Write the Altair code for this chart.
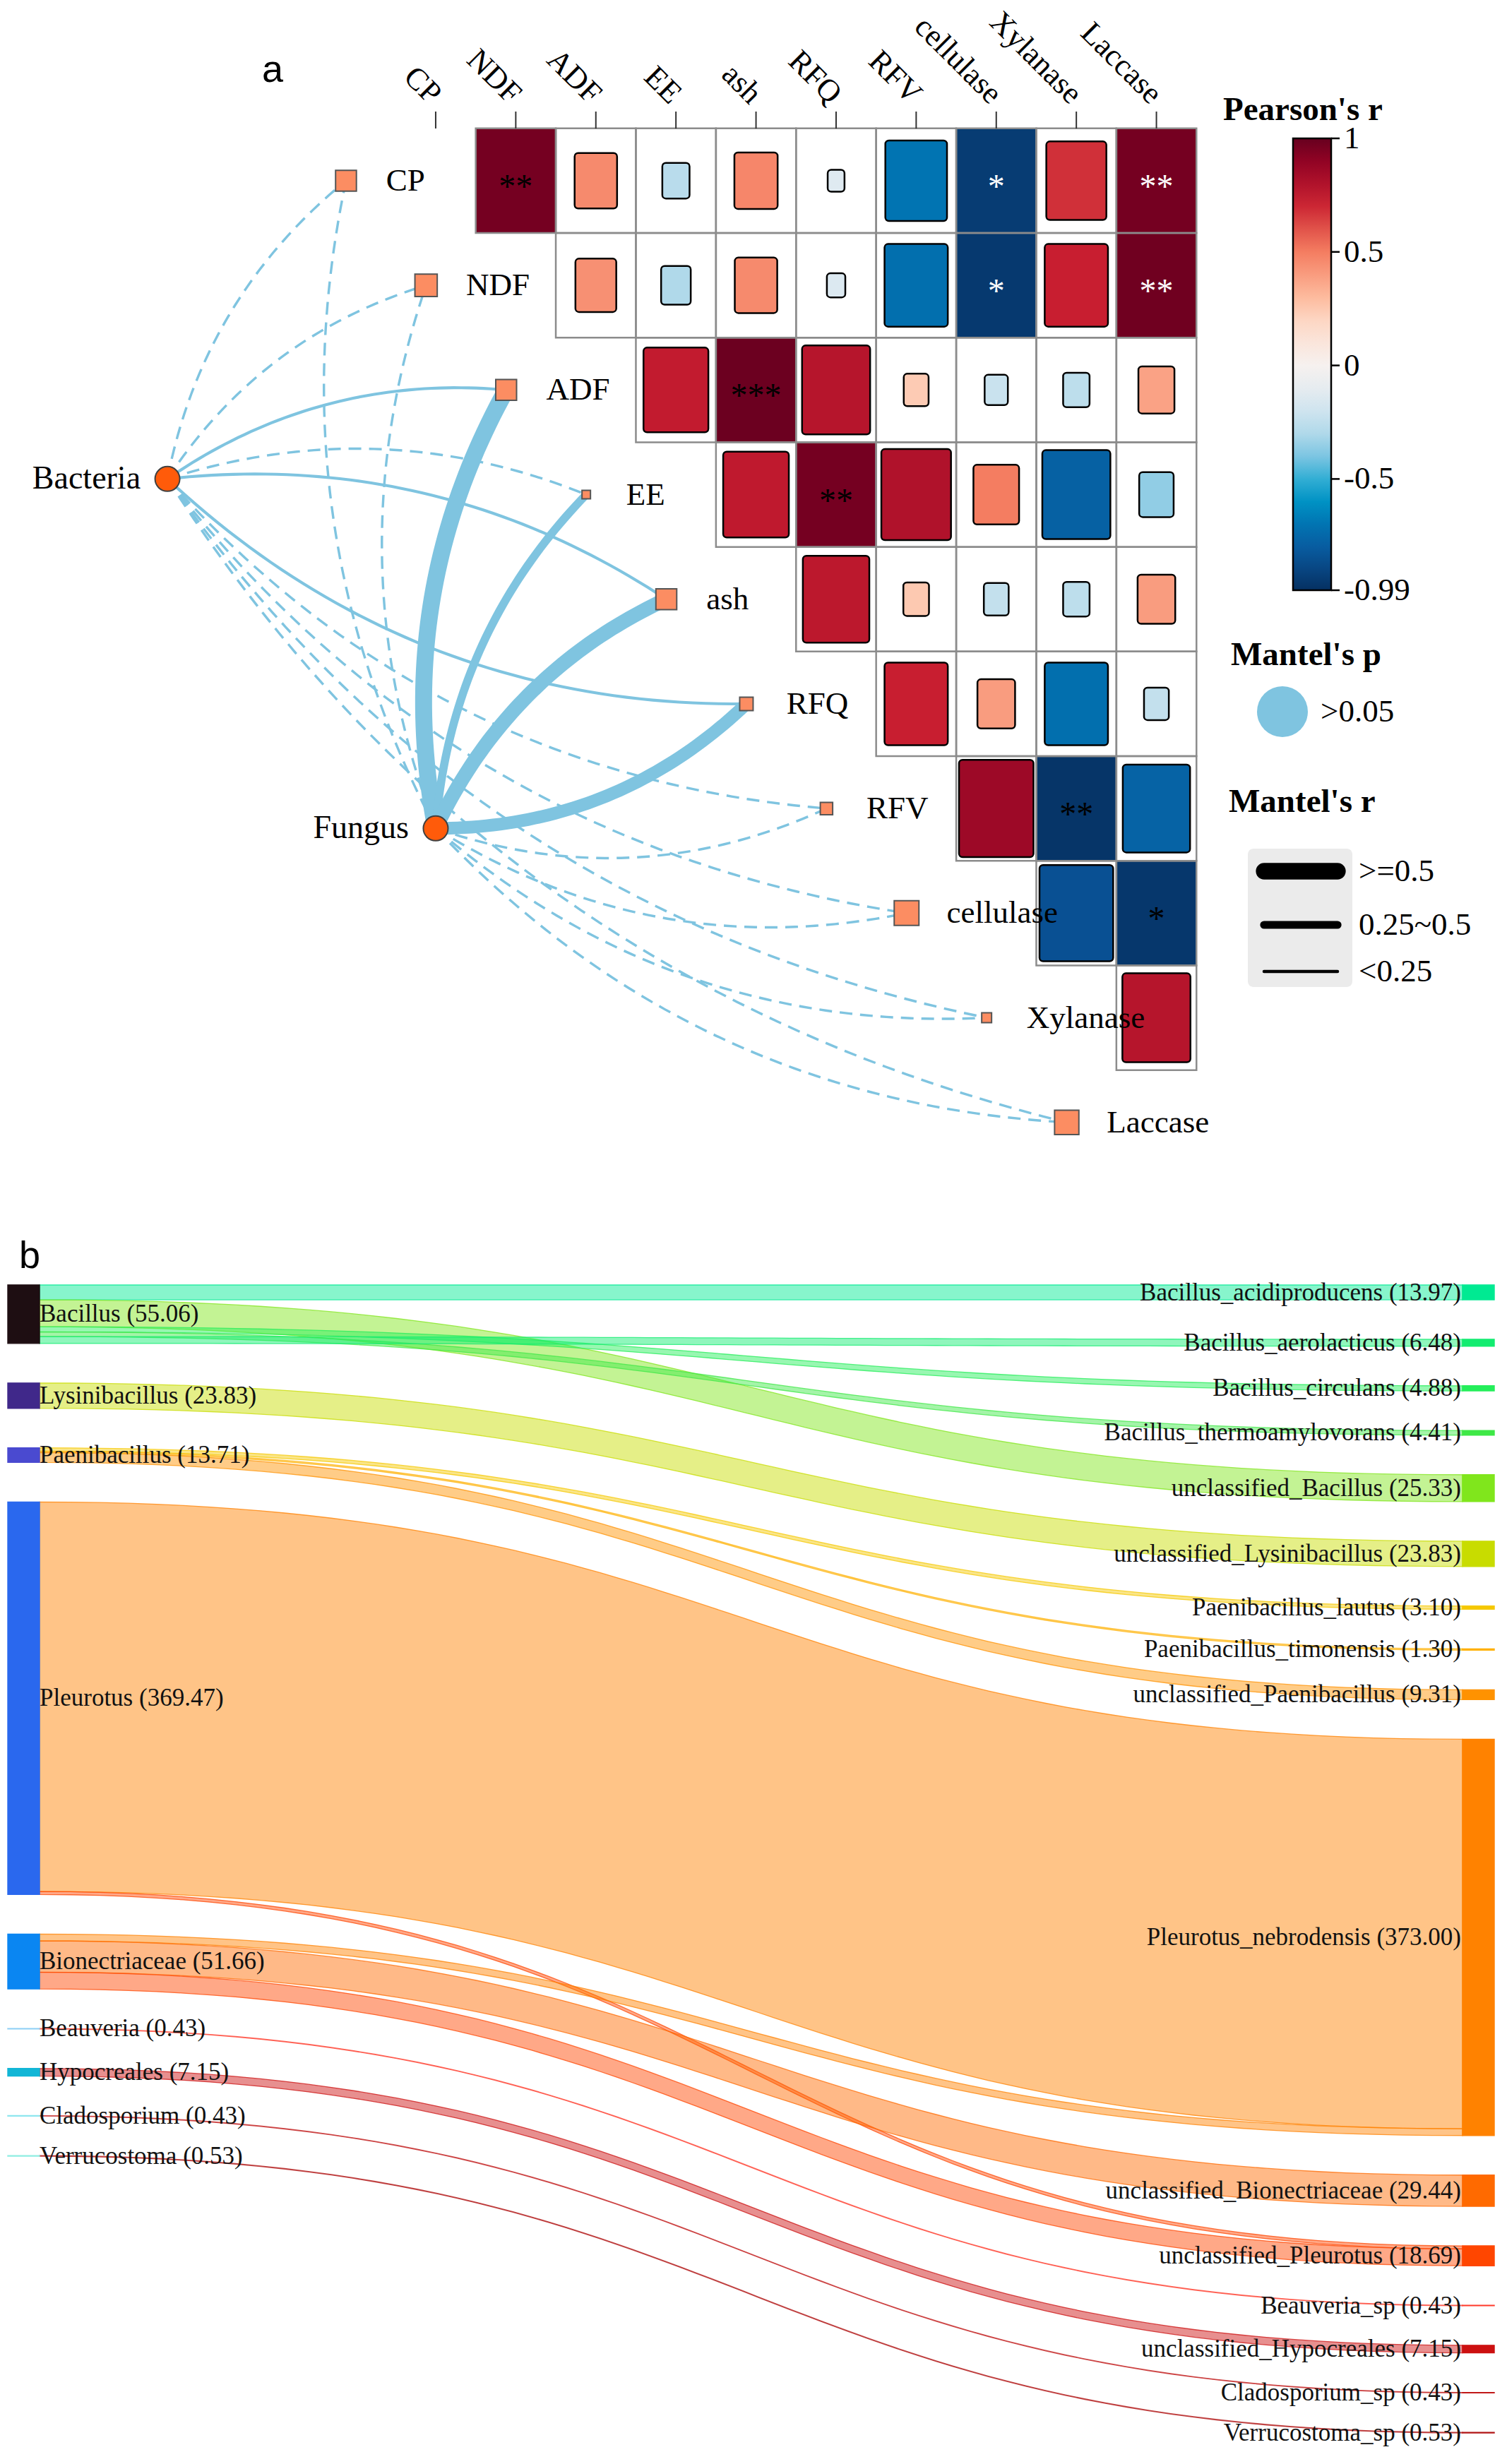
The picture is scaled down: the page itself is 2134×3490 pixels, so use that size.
import altair as alt
import numpy as np
import pandas as pd

SERIF = "Liberation Serif"
SANS = "Liberation Sans"

# ======================= panel a : data =======================
VARS = ["CP", "NDF", "ADF", "EE", "ash", "RFQ", "RFV", "cellulase", "Xylanase", "Laccase"]

# upper-triangle Pearson's r, row by row (row i holds columns i+1 .. 9)
R_CP = [0.97, 0.46, -0.27, 0.47, -0.14, -0.70, -0.94, 0.68, 0.97]
R_NDF = [0.44, -0.30, 0.46, -0.16, -0.72, -0.95, 0.72, 0.98]
R_ADF = [0.74, 0.99, 0.78, 0.24, -0.22, -0.26, 0.38]
R_EE = [0.75, 0.97, 0.80, 0.50, -0.78, -0.36]
R_ASH = [0.76, 0.25, -0.24, -0.26, 0.40]
R_RFQ = [0.72, 0.40, -0.72, -0.24]
R_RFV = [0.86, -0.97, -0.77]
R_CELL = [-0.85, -0.96]
R_XYL = [0.78]

SIG_CP = ["**", "", "", "", "", "", "*", "", "**"]
SIG_NDF = ["", "", "", "", "", "*", "", "**"]
SIG_ADF = ["", "***", "", "", "", "", ""]
SIG_EE = ["", "**", "", "", "", ""]
SIG_ASH = ["", "", "", "", ""]
SIG_RFQ = ["", "", "", ""]
SIG_RFV = ["", "**", ""]
SIG_CELL = ["", "*"]
SIG_XYL = [""]

ENVS = ["Bacteria", "Fungus"]
MANTEL_R_BACTERIA = [0.04, 0.04, 0.06, 0.04, 0.06, 0.06, 0.04, 0.04, 0.04, 0.04]
MANTEL_R_FUNGUS = [0.04, 0.04, 0.62, 0.27, 0.52, 0.45, 0.04, 0.04, 0.04, 0.04]
LINE_BACTERIA = ["dashed", "dashed", "solid", "dashed", "solid", "solid", "dashed", "dashed", "dashed", "dashed"]
LINE_FUNGUS = ["dashed", "dashed", "solid", "solid", "solid", "solid", "dashed", "dashed", "dashed", "dashed"]

# colour bar of Pearson's r (value stops and colours)
CB_STOPS = [-0.99, -0.83, -0.69, -0.56, -0.43, -0.30, -0.16, 0.0, 0.18, 0.31, 0.51, 0.72, 0.92, 1.0]
CB_COLORS = ["#053061", "#0A559A", "#0076B4", "#009FCB", "#6DBFDF", "#B0D9EA", "#DCE9F1",
             "#F6F1EF", "#FDDCCB", "#FDB89A", "#F47A5E", "#C81E30", "#8B0023", "#67001F"]
CB_LABELS = [1, 0.5, 0, -0.5, -0.99]

# ======================= panel b : data =======================
LEFT_NAMES = ["Bacillus", "Lysinibacillus", "Paenibacillus", "Pleurotus", "Bionectriaceae",
              "Beauveria", "Hypocreales", "Cladosporium", "Verrucostoma"]
LEFT_VALUES = [55.06, 23.83, 13.71, 369.47, 51.66, 0.43, 7.15, 0.43, 0.53]

RIGHT_NAMES = ["Bacillus_acidiproducens", "Bacillus_aerolacticus", "Bacillus_circulans",
               "Bacillus_thermoamylovorans", "unclassified_Bacillus", "unclassified_Lysinibacillus",
               "Paenibacillus_lautus", "Paenibacillus_timonensis", "unclassified_Paenibacillus",
               "Pleurotus_nebrodensis", "unclassified_Bionectriaceae", "unclassified_Pleurotus",
               "Beauveria_sp", "unclassified_Hypocreales", "Cladosporium_sp", "Verrucostoma_sp"]
RIGHT_VALUES = [13.97, 6.48, 4.88, 4.41, 25.33, 23.83, 3.10, 1.30, 9.31, 373.00, 29.44, 18.69,
                0.43, 7.15, 0.43, 0.53]

LINK_SRC = ["Bacillus", "Bacillus", "Bacillus", "Bacillus", "Bacillus", "Lysinibacillus",
            "Paenibacillus", "Paenibacillus", "Paenibacillus", "Pleurotus", "Pleurotus",
            "Bionectriaceae", "Bionectriaceae", "Bionectriaceae", "Beauveria", "Hypocreales",
            "Cladosporium", "Verrucostoma"]
LINK_TGT = ["Bacillus_acidiproducens", "unclassified_Bacillus", "Bacillus_circulans",
            "Bacillus_thermoamylovorans", "Bacillus_aerolacticus", "unclassified_Lysinibacillus",
            "Paenibacillus_lautus", "Paenibacillus_timonensis", "unclassified_Paenibacillus",
            "Pleurotus_nebrodensis", "unclassified_Pleurotus", "Pleurotus_nebrodensis",
            "unclassified_Bionectriaceae", "unclassified_Pleurotus", "Beauveria_sp",
            "unclassified_Hypocreales", "Cladosporium_sp", "Verrucostoma_sp"]
LINK_VAL = [13.97, 25.33, 4.88, 4.41, 6.48, 23.83, 3.10, 1.30, 9.31, 366.60, 2.87, 6.40, 29.44,
            15.82, 0.43, 7.15, 0.43, 0.53]

# ======================= styles / layout =======================
LEFT_COLORS = ["#1E0E12", "#40288A", "#4A4AD0", "#2A68EE", "#0A86F2", "#8CCFF5", "#12B6D6",
               "#8EE6EE", "#8EEDE2"]
RIGHT_COLORS = ["#00EA92", "#12EC70", "#24EE5A", "#3EE846", "#80E61C", "#C8DC00", "#F5C800",
                "#FFB000", "#FF9200", "#FF8200", "#FF6A00", "#FF4600", "#FF3A2A", "#CC1010",
                "#C01818", "#B01414"]
EDGE_COLOR = "#7FC4E0"
NODE_FILL = "#FC8D62"
ENV_FILL = "#FF5B0A"
WHITE_SIG = {(0, 7), (0, 9), (1, 7), (1, 9)}
NODE_SIDE = [29.5, 31.6, 29.5, 12, 29.5, 19, 17.5, 35, 14, 34.4]
ENV_POS = {"Bacteria": (-3.35, 2.85), "Fungus": (0.0, 6.19)}
NODE_DX = -1.12
CURV_UP = 0.09
CURV_DOWN = 0.10

# panel a geometry (pixels per unit)
PXX, PXY = 113.4, 148.2
A_W, A_H = 2118, 1652
XA0 = -5.37
XA1 = XA0 + A_W / PXX
YA0 = -1.673
YA1 = YA0 + A_H / PXY

# colour-bar layout (pixels)
CB_LEFT, CB_TOP, CB_LEN, CB_THICK = 1831, 196, 640, 54


def ax(px):
    return XA0 + (px - 8) / PXX


def ay(py):
    return YA0 + (py - 8) / PXY


def cb_y(v):
    return CB_TOP + (1 - v) / 1.99 * CB_LEN


XS = alt.Scale(domain=[XA0, XA1], nice=False, zero=False)
YS = alt.Scale(domain=[YA0, YA1], nice=False, zero=False, reverse=True)
SW_SCALE = alt.Scale(domain=[0, 0.62], range=[2, 24])
COLOR_SCALE = alt.Scale(domain=CB_STOPS, range=CB_COLORS, interpolate="rgb")

# ---------------- heatmap cells ----------------
rows_r = [R_CP, R_NDF, R_ADF, R_EE, R_ASH, R_RFQ, R_RFV, R_CELL, R_XYL]
rows_s = [SIG_CP, SIG_NDF, SIG_ADF, SIG_EE, SIG_ASH, SIG_RFQ, SIG_RFV, SIG_CELL, SIG_XYL]
recs = []
for i, (rr, ss) in enumerate(zip(rows_r, rows_s)):
    for k, (r, s) in enumerate(zip(rr, ss)):
        j = i + 1 + k
        recs.append(dict(i=i, j=j, r=r, sig=s, sigcol="white" if (i, j) in WHITE_SIG else "black"))
cells = pd.DataFrame(recs)

color_enc = alt.Color("r:Q", scale=COLOR_SCALE, legend=alt.Legend(
    orient="none", legendX=CB_LEFT - 8, legendY=CB_TOP - 8, direction="vertical",
    gradientLength=CB_LEN, gradientThickness=CB_THICK, title=None,
    values=CB_LABELS, labelExpr="''", labelOpacity=0, labelFontSize=1,
    gradientStrokeColor="black", gradientStrokeWidth=2.5, padding=0))

base_cells = alt.Chart(cells).transform_calculate(
    bx1="datum.j - 0.5", bx2="datum.j + 0.5", by1="datum.i - 0.5", by2="datum.i + 0.5",
    f="datum.sig != '' ? 1.0 : min(0.95, 0.07 + abs(datum.r))",
).transform_calculate(
    ix1="datum.j - datum.f / 2", ix2="datum.j + datum.f / 2",
    iy1="datum.i - datum.f / 2", iy2="datum.i + datum.f / 2",
)

cell_bg = base_cells.mark_rect(fill="white").encode(
    x=alt.X("bx1:Q", scale=XS, axis=None), x2="bx2:Q",
    y=alt.Y("by1:Q", scale=YS, axis=None), y2="by2:Q")

cell_full = base_cells.transform_filter("datum.sig != ''").mark_rect().encode(
    x=alt.X("ix1:Q", scale=XS, axis=None), x2="ix2:Q",
    y=alt.Y("iy1:Q", scale=YS, axis=None), y2="iy2:Q", color=color_enc)

cell_part = base_cells.transform_filter("datum.sig == ''").mark_rect(
    cornerRadius=5, stroke="black", strokeWidth=2.5).encode(
    x=alt.X("ix1:Q", scale=XS, axis=None), x2="ix2:Q",
    y=alt.Y("iy1:Q", scale=YS, axis=None), y2="iy2:Q", color=color_enc)

cell_grid = base_cells.mark_rect(fillOpacity=0, stroke="#8C8C8C", strokeWidth=2.5).encode(
    x=alt.X("bx1:Q", scale=XS, axis=None), x2="bx2:Q",
    y=alt.Y("by1:Q", scale=YS, axis=None), y2="by2:Q")

stars = alt.Chart(cells).transform_filter("datum.sig != ''").mark_text(
    font=SERIF, fontSize=48, baseline="middle", dy=10).encode(
    x=alt.X("j:Q", scale=XS, axis=None), y=alt.Y("i:Q", scale=YS, axis=None),
    text="sig:N", color=alt.Color("sigcol:N", scale=None))

# top labels and ticks
top = pd.DataFrame({"j": list(range(len(VARS))), "name": VARS})
top_labels = alt.Chart(top).transform_calculate(ly=str(ay(140))).mark_text(
    font=SERIF, fontSize=44, angle=45, align="right", baseline="middle", color="black").encode(
    x=alt.X("j:Q", scale=XS, axis=None), y=alt.Y("ly:Q", scale=YS, axis=None), text="name:N")
top_ticks = alt.Chart(top).transform_calculate(t1=str(ay(158)), t2=str(ay(182))).mark_rule(
    color="#333333", strokeWidth=2).encode(
    x=alt.X("j:Q", scale=XS, axis=None), y=alt.Y("t1:Q", scale=YS, axis=None), y2="t2:Q")

# ---------------- mantel edges ----------------


def curve(p0, p1, k, sgn, n=50):
    X0, Y0 = p0[0] * PXX, p0[1] * PXY
    X1, Y1 = p1[0] * PXX, p1[1] * PXY
    dx, dy = X1 - X0, Y1 - Y0
    L = np.hypot(dx, dy)
    nx, ny = dy / L, -dx / L
    cx = (X0 + X1) / 2 + sgn * 2 * k * L * nx
    cy = (Y0 + Y1) / 2 + sgn * 2 * k * L * ny
    t = np.linspace(0, 1, n)
    X = (1 - t) ** 2 * X0 + 2 * (1 - t) * t * cx + t ** 2 * X1
    Y = (1 - t) ** 2 * Y0 + 2 * (1 - t) * t * cy + t ** 2 * Y1
    return X / PXX, Y / PXY, t


erecs = []
for env, mrs, lts in [("Bacteria", MANTEL_R_BACTERIA, LINE_BACTERIA),
                      ("Fungus", MANTEL_R_FUNGUS, LINE_FUNGUS)]:
    for i, var in enumerate(VARS):
        p0 = ENV_POS[env]
        p1 = (i + NODE_DX, i)
        if i <= 4:
            sgn, k = 1, CURV_UP
        else:
            sgn, k = -1, CURV_DOWN
        X, Y, T = curve(p0, p1, k, sgn)
        for xx, yy, tt in zip(X, Y, T):
            erecs.append(dict(edge=f"{env}-{var}", t=tt, x=xx, y=yy, mr=mrs[i], lt=lts[i]))
edges = pd.DataFrame(erecs)

edge_enc = dict(
    x=alt.X("x:Q", scale=XS, axis=None), y=alt.Y("y:Q", scale=YS, axis=None),
    detail="edge:N", order="t:Q",
    strokeWidth=alt.StrokeWidth("mr:Q", scale=SW_SCALE, legend=None))
edges_dashed = alt.Chart(edges).transform_filter("datum.lt == 'dashed'").mark_line(
    color=EDGE_COLOR, strokeDash=[18, 11]).encode(**edge_enc)
edges_solid = alt.Chart(edges).transform_filter("datum.lt == 'solid'").mark_line(
    color=EDGE_COLOR).encode(**edge_enc)

# ---------------- nodes ----------------
vnodes = pd.DataFrame({"name": VARS, "x": [i + NODE_DX for i in range(len(VARS))],
                       "y": list(range(len(VARS))), "s2": [s * s for s in NODE_SIDE]})
var_nodes = alt.Chart(vnodes).mark_square(
    fill=NODE_FILL, stroke="#555555", strokeWidth=2, opacity=1).encode(
    x=alt.X("x:Q", scale=XS, axis=None), y=alt.Y("y:Q", scale=YS, axis=None),
    size=alt.Size("s2:Q", scale=None, legend=None))
var_labels = alt.Chart(vnodes).transform_calculate(lx="datum.x + 0.5").mark_text(
    font=SERIF, fontSize=45, align="left", baseline="middle", color="black").encode(
    x=alt.X("lx:Q", scale=XS, axis=None), y=alt.Y("y:Q", scale=YS, axis=None), text="name:N")

enodes = pd.DataFrame({"name": ENVS, "x": [ENV_POS[e][0] for e in ENVS],
                       "y": [ENV_POS[e][1] for e in ENVS]})
env_nodes = alt.Chart(enodes).mark_circle(
    size=1225, fill=ENV_FILL, stroke="#404040", strokeWidth=2, opacity=1).encode(
    x=alt.X("x:Q", scale=XS, axis=None), y=alt.Y("y:Q", scale=YS, axis=None))
env_labels = alt.Chart(enodes).transform_calculate(lx=f"datum.x - {38 / PXX}").mark_text(
    font=SERIF, fontSize=46, align="right", baseline="middle", color="black").encode(
    x=alt.X("lx:Q", scale=XS, axis=None), y=alt.Y("y:Q", scale=YS, axis=None), text="name:N")

# ---------------- manual legend pieces (layout in pixels) ----------------
leg_titles = pd.DataFrame({
    "text": ["Pearson's r", "Mantel's p", "Mantel's r"],
    "x": [ax(1732), ax(1743), ax(1740)], "y": [ay(156), ay(928), ay(1136)]})
leg_title_marks = alt.Chart(leg_titles).mark_text(
    font=SERIF, fontSize=47, fontWeight="bold", align="left", baseline="middle", color="black").encode(
    x=alt.X("x:Q", scale=XS, axis=None), y=alt.Y("y:Q", scale=YS, axis=None), text="text:N")

leg_labels = pd.DataFrame({
    "text": [">0.05", ">=0.5", "0.25~0.5", "<0.25"] + [str(v) for v in CB_LABELS],
    "x": [ax(1870), ax(1924), ax(1924), ax(1924)] + [ax(CB_LEFT + CB_THICK + 18)] * len(CB_LABELS),
    "y": [ay(1008), ay(1234), ay(1310), ay(1376)] + [ay(cb_y(v)) for v in CB_LABELS]})
leg_label_marks = alt.Chart(leg_labels).mark_text(
    font=SERIF, fontSize=45, align="left", baseline="middle", color="black").encode(
    x=alt.X("x:Q", scale=XS, axis=None), y=alt.Y("y:Q", scale=YS, axis=None), text="text:N")

leg_circle = alt.Chart(pd.DataFrame({"x": [ax(1816)], "y": [ay(1008)]})).mark_circle(
    size=5184, color=EDGE_COLOR, opacity=1).encode(
    x=alt.X("x:Q", scale=XS, axis=None), y=alt.Y("y:Q", scale=YS, axis=None))

leg_box = alt.Chart(pd.DataFrame({"x1": [ax(1767)], "x2": [ax(1915)], "y1": [ay(1202)],
                                  "y2": [ay(1398)]})).mark_rect(
    fill="#EBEBEB", cornerRadius=8).encode(
    x=alt.X("x1:Q", scale=XS, axis=None), x2="x2:Q",
    y=alt.Y("y1:Q", scale=YS, axis=None), y2="y2:Q")

leg_lines = alt.Chart(pd.DataFrame({
    "mr": [0.6, 0.26, 0.07], "x1": [ax(1790)] * 3, "x2": [ax(1894)] * 3,
    "y": [ay(1234), ay(1310), ay(1376)]})).mark_rule(color="black", strokeCap="round").encode(
    x=alt.X("x1:Q", scale=XS, axis=None), x2="x2:Q", y=alt.Y("y:Q", scale=YS, axis=None),
    strokeWidth=alt.StrokeWidth("mr:Q", scale=SW_SCALE, legend=None))

cb_ticks = alt.Chart(pd.DataFrame({
    "y": [ay(cb_y(v)) for v in CB_LABELS],
    "x1": [ax(CB_LEFT + CB_THICK)] * 5, "x2": [ax(CB_LEFT + CB_THICK + 12)] * 5})).mark_rule(
    color="black", strokeWidth=2.5).encode(
    x=alt.X("x1:Q", scale=XS, axis=None), x2="x2:Q", y=alt.Y("y:Q", scale=YS, axis=None))

label_a = alt.Chart(pd.DataFrame({"x": [ax(371)], "y": [ay(116)], "t": ["a"]})).mark_text(
    font=SANS, fontSize=54, align="left", baseline="alphabetic", color="black").encode(
    x=alt.X("x:Q", scale=XS, axis=None), y=alt.Y("y:Q", scale=YS, axis=None), text="t:N")

panel_a = alt.layer(
    cell_bg, cell_full, cell_part, cell_grid, stars, top_ticks, top_labels,
    edges_dashed, edges_solid, var_nodes, env_nodes, var_labels, env_labels,
    leg_title_marks, leg_label_marks, leg_circle, leg_box, leg_lines, cb_ticks, label_a,
).properties(width=A_W, height=A_H)

# ======================= panel b : sankey layout =======================
PXB = 2105.0          # pixels per x unit
PYB = 1.505           # pixels per value unit
B_W, B_H = 2118, 1735
XB0 = -3 / PXB
XB1 = XB0 + B_W / PXB
YB0 = -80 / PYB
YB1 = YB0 + B_H / PYB
NW = 45 / PXB
PAD_U = 56 / PYB

XSB = alt.Scale(domain=[XB0, XB1], nice=False, zero=False)
YSB = alt.Scale(domain=[YB0, YB1], nice=False, zero=False, reverse=True)


def stack(values):
    out, acc = [], 0.0
    for v in values:
        out.append(acc)
        acc += v + PAD_U
    return out


left_y0 = dict(zip(LEFT_NAMES, stack(LEFT_VALUES)))
right_y0 = dict(zip(RIGHT_NAMES, stack(RIGHT_VALUES)))
right_color = dict(zip(RIGHT_NAMES, RIGHT_COLORS))

nrecs = []
for n, v, c in zip(LEFT_NAMES, LEFT_VALUES, LEFT_COLORS):
    nrecs.append(dict(name=n, x1=0.0, x2=NW, y1=left_y0[n], y2=left_y0[n] + v, color=c,
                      label=f"{n} ({v:.2f})", side="L"))
for n, v, c in zip(RIGHT_NAMES, RIGHT_VALUES, RIGHT_COLORS):
    nrecs.append(dict(name=n, x1=1 - NW, x2=1.0, y1=right_y0[n], y2=right_y0[n] + v, color=c,
                      label=f"{n} ({v:.2f})", side="R"))
snodes = pd.DataFrame(nrecs)
snodes["yc"] = (snodes["y1"] + snodes["y2"]) / 2

# source offsets in list order, target offsets by source order
src_off = dict(left_y0)
tgt_off = dict(right_y0)
link_geo = [None] * len(LINK_VAL)
for idx in range(len(LINK_VAL)):
    s = LINK_SRC[idx]
    link_geo[idx] = [src_off[s]]
    src_off[s] += LINK_VAL[idx]
order_t = sorted(range(len(LINK_VAL)), key=lambda k: (LEFT_NAMES.index(LINK_SRC[k]), k))
for idx in order_t:
    t = LINK_TGT[idx]
    link_geo[idx].append(tgt_off[t])
    tgt_off[t] += LINK_VAL[idx]

lrecs = []
tt = np.linspace(0, 1, 70)
xf = 1.5 * tt * (1 - tt) + tt ** 3
sf = 3 * tt ** 2 - 2 * tt ** 3
for idx in range(len(LINK_VAL)):
    ys0, yt0 = link_geo[idx]
    v = LINK_VAL[idx]
    for a, b in zip(xf, sf):
        lrecs.append(dict(link=idx, x=NW + (1 - 2 * NW) * a,
                          ytop=ys0 + (yt0 - ys0) * b,
                          ybot=ys0 + v + (yt0 - ys0) * b,
                          color=right_color[LINK_TGT[idx]]))
slinks = pd.DataFrame(lrecs)

links_chart = alt.Chart(slinks).mark_area(
    fillOpacity=0.47, strokeWidth=1.3, strokeOpacity=0.75).encode(
    x=alt.X("x:Q", scale=XSB, axis=None),
    y=alt.Y("ytop:Q", scale=YSB, axis=None, stack=False), y2="ybot:Q",
    detail="link:N",
    fill=alt.Fill("color:N", scale=None), stroke=alt.Stroke("color:N", scale=None))

nodes_chart = alt.Chart(snodes).mark_rect(strokeWidth=1.4).encode(
    x=alt.X("x1:Q", scale=XSB, axis=None), x2="x2:Q",
    y=alt.Y("y1:Q", scale=YSB, axis=None), y2="y2:Q",
    fill=alt.Fill("color:N", scale=None), stroke=alt.Stroke("color:N", scale=None))

left_lab = alt.Chart(snodes).transform_filter("datum.side == 'L'").mark_text(
    font=SERIF, fontSize=35, align="left", baseline="middle", color="#111111").encode(
    x=alt.X("x2:Q", scale=XSB, axis=None), y=alt.Y("yc:Q", scale=YSB, axis=None), text="label:N")
right_lab = alt.Chart(snodes).transform_filter("datum.side == 'R'").mark_text(
    font=SERIF, fontSize=35, align="right", baseline="middle", color="#111111", dx=-2).encode(
    x=alt.X("x1:Q", scale=XSB, axis=None), y=alt.Y("yc:Q", scale=YSB, axis=None), text="label:N")

label_b = alt.Chart(pd.DataFrame({"x": [XB0 + (27 - 8) / PXB], "y": [YB0 + (1796 - 1740) / PYB],
                                  "t": ["b"]})).mark_text(
    font=SANS, fontSize=54, align="left", baseline="alphabetic", color="black").encode(
    x=alt.X("x:Q", scale=XSB, axis=None), y=alt.Y("y:Q", scale=YSB, axis=None), text="t:N")

panel_b = alt.layer(links_chart, nodes_chart, left_lab, right_lab, label_b).properties(
    width=B_W, height=B_H)

chart = alt.vconcat(panel_a, panel_b, spacing=80).resolve_scale(
    x="independent", y="independent", color="independent", strokeWidth="independent",
    fill="independent", stroke="independent", size="independent",
).configure_view(stroke=None).properties(padding=0, background="white")

chart.save("out.html", embed_options={"renderer": "svg", "actions": False})
